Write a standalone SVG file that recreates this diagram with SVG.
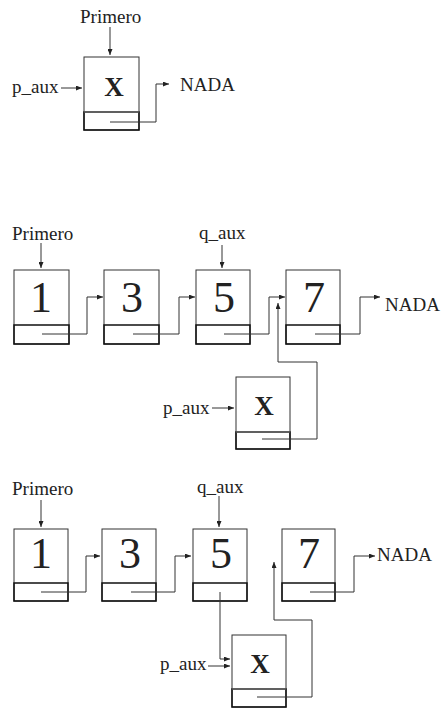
<svg xmlns="http://www.w3.org/2000/svg" width="441" height="709" viewBox="0 0 441 709" font-family="'Liberation Serif', 'DejaVu Serif', serif">
  <defs>
    <marker id="ah" markerWidth="6" markerHeight="5" refX="6" refY="2.5" orient="auto" markerUnits="userSpaceOnUse">
      <path d="M0,0 L6,2.5 L0,5 Z" fill="#222"/>
    </marker>
  </defs>
  <style>
    text { font-family: 'Liberation Serif', 'DejaVu Serif', serif; fill: #222; }
    .lbl { font-size: 19px; }
    .num { font-size: 44px; text-anchor: middle; }
    .x { font-size: 27px; font-weight: bold; text-anchor: middle; }
    .cell { fill: #fff; stroke: #333; stroke-width: 1; }
    .next { fill: none; stroke: #111; stroke-width: 1.5; }
    .div { stroke: #777; stroke-width: 1; }
    .arr { fill: none; stroke: #333; stroke-width: 1; marker-end: url(#ah); }
  </style>
  <rect width="441" height="709" fill="#fff"/>

  <!-- Part 1: new node -->
  <g id="p1-labels">
    <text class="lbl" x="80" y="23">Primero</text>
    <text class="lbl" x="12" y="93">p_aux</text>
    <text class="lbl" x="180" y="91">NADA</text>
  </g>
  <g id="p1-nodeX">
    <rect class="cell" x="84" y="57" width="55" height="73"/>
    <rect class="next" x="84" y="112" width="55" height="18"/>
    <line class="div" x1="84" y1="112" x2="139" y2="112"/>
    <text class="x" x="114" y="96">X</text>
  </g>

  <!-- Part 2: list before insertion -->
  <g id="p2-labels">
    <text class="lbl" x="12" y="240">Primero</text>
    <text class="lbl" x="199" y="239">q_aux</text>
    <text class="lbl" x="385" y="311">NADA</text>
    <text class="lbl" x="163" y="414">p_aux</text>
  </g>
  <g id="p2-node1">
    <rect class="cell" x="14" y="270" width="55" height="74"/>
    <rect class="next" x="14" y="325" width="55" height="19"/>
    <text class="num" x="41" y="312">1</text>
  </g>
  <g id="p2-node3">
    <rect class="cell" x="104" y="270" width="55" height="74"/>
    <rect class="next" x="104" y="325" width="55" height="19"/>
    <text class="num" x="132" y="312">3</text>
  </g>
  <g id="p2-node5">
    <rect class="cell" x="196" y="270" width="54" height="74"/>
    <rect class="next" x="196" y="325" width="54" height="19"/>
    <text class="num" x="224" y="312">5</text>
  </g>
  <g id="p2-node7">
    <rect class="cell" x="286" y="270" width="54" height="74"/>
    <rect class="next" x="286" y="325" width="54" height="19"/>
    <text class="num" x="314" y="312">7</text>
  </g>
  <g id="p2-nodeX">
    <rect class="cell" x="236" y="377" width="54" height="72"/>
    <rect class="next" x="236" y="432" width="54" height="17"/>
    <line class="div" x1="236" y1="432" x2="290" y2="432"/>
    <text class="x" x="264" y="415">X</text>
  </g>

  <!-- Part 3: list after insertion -->
  <g id="p3-labels">
    <text class="lbl" x="12" y="495">Primero</text>
    <text class="lbl" x="197" y="493">q_aux</text>
    <text class="lbl" x="377" y="561">NADA</text>
    <text class="lbl" x="160" y="670">p_aux</text>
  </g>
  <g id="p3-node1">
    <rect class="cell" x="14" y="529" width="54" height="72"/>
    <rect class="next" x="14" y="583" width="54" height="18"/>
    <text class="num" x="41" y="568">1</text>
  </g>
  <g id="p3-node3">
    <rect class="cell" x="102" y="529" width="54" height="72"/>
    <rect class="next" x="102" y="583" width="54" height="18"/>
    <text class="num" x="130" y="568">3</text>
  </g>
  <g id="p3-node5">
    <rect class="cell" x="193" y="529" width="54" height="72"/>
    <rect class="next" x="193" y="583" width="54" height="18"/>
    <text class="num" x="221" y="568">5</text>
  </g>
  <g id="p3-node7">
    <rect class="cell" x="282" y="529" width="53" height="72"/>
    <rect class="next" x="282" y="583" width="53" height="18"/>
    <text class="num" x="309" y="568">7</text>
  </g>
  <g id="p3-nodeX">
    <rect class="cell" x="232" y="635" width="54" height="72"/>
    <rect class="next" x="232" y="689" width="54" height="18"/>
    <line class="div" x1="232" y1="689" x2="286" y2="689"/>
    <text class="x" x="260" y="673">X</text>
  </g>

  <g id="connectors">
    <!-- part 1 -->
    <path class="arr" d="M110,27 V55"/>
    <path class="arr" d="M61,88 H82"/>
    <path class="arr" d="M110,122 H156 V84 H169"/>
    <!-- part 2 -->
    <path class="arr" d="M41,243 V268"/>
    <path class="arr" d="M222,245 V268"/>
    <path class="arr" d="M42,334 H87 V297 H103"/>
    <path class="arr" d="M133,334 H179 V297 H195"/>
    <path class="arr" d="M224,334 H269 V297 H285"/>
    <path class="arr" d="M315,334 H360 V297 H380"/>
    <path class="arr" d="M212,408 H234"/>
    <path class="arr" d="M262,439 H317 V362 H278 V303"/>
    <!-- part 3 -->
    <path class="arr" d="M41,500 V527"/>
    <path class="arr" d="M219,496 V527"/>
    <path class="arr" d="M41,592 H86 V556 H100"/>
    <path class="arr" d="M131,592 H175 V556 H191"/>
    <path class="arr" d="M310,592 H354 V556 H375"/>
    <path class="arr" d="M220,592 V659 H230"/>
    <path class="arr" d="M208,666 H230"/>
    <path class="arr" d="M257,697 H312 V620 H274 V562"/>
  </g>
</svg>
